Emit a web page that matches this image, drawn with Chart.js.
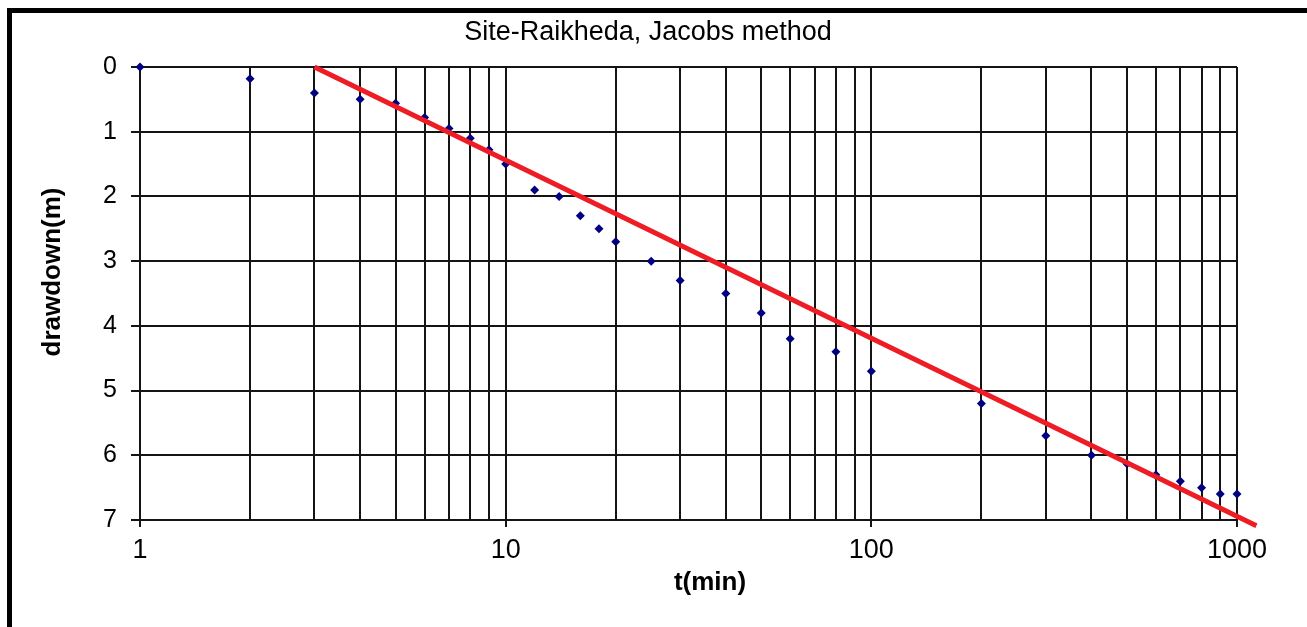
<!DOCTYPE html>
<html>
<head>
<meta charset="utf-8">
<title>Site-Raikheda, Jacobs method</title>
<script src="https://cdn.jsdelivr.net/npm/chart.js@4/dist/chart.umd.min.js"></script>
<style>
    body { margin: 0; background: #fff; overflow: hidden; }
    .frame {
        position: absolute;
        left: 7px;
        top: 8px;
        width: 1400px;
        height: 700px;
        border-top: 5px solid #000;
        border-left: 5px solid #000;
    }
    #jacobs-chart { position: absolute; left: 0; top: 0; }
</style>
</head>
<body>
<div class="frame"></div>
<canvas id="jacobs-chart" width="1307" height="627"></canvas>
<script>
// ===== Pumping test data (Jacobs straight-line method) =====

const chartTitle = 'Site-Raikheda, Jacobs method';
const xAxisTitle = 't(min)';
const yAxisTitle = 'drawdown(m)';

// observed drawdown
const timeMin = [1, 2, 3, 4, 5, 6, 7, 8, 9, 10, 12, 14, 16, 18, 20, 25, 30, 40, 50, 60, 80, 100,
    200, 300, 400, 500, 600, 700, 800, 900, 1000];
const drawdownM = [0, 0.18, 0.4, 0.5, 0.56, 0.78, 0.95, 1.1, 1.28, 1.5, 1.9, 2.0, 2.3, 2.5, 2.7, 3.0, 3.3, 3.5, 3.8, 4.2, 4.4, 4.7,
    5.2, 5.7, 6.0, 6.13, 6.3, 6.4, 6.5, 6.6, 6.6];

// fitted straight line
const fitTime = [3, 1130];
const fitDrawdown = [0, 7.09];

// axis ticks
const xGridTicks = [1, 2, 3, 4, 5, 6, 7, 8, 9, 10, 20, 30, 40, 50, 60, 70, 80, 90,
    100, 200, 300, 400, 500, 600, 700, 800, 900, 1000];
const xTickLabels = [1, 10, 100, 1000];
const yTickLabels = [0, 1, 2, 3, 4, 5, 6, 7];

const FONT = '"Liberation Sans", Arial, sans-serif';
const GRID = '#141414';

// Titles drawn at fixed spots like the original spreadsheet chart
const titlesPlugin = {
    id: 'titles',
    afterDraw(chart) {
        const ctx = chart.ctx;
        ctx.save();
        ctx.fillStyle = '#000';
        ctx.textAlign = 'center';
        ctx.textBaseline = 'middle';

        ctx.font = '27px ' + FONT;
        ctx.fillText(chartTitle, 648, 33);

        ctx.font = 'bold 26px ' + FONT;
        ctx.fillText(xAxisTitle, 710, 583);

        ctx.translate(53, 272);
        ctx.rotate(-Math.PI / 2);
        ctx.fillText(yAxisTitle, 0, 0);
        ctx.restore();
    }
};

const ctx = document.getElementById('jacobs-chart').getContext('2d');

new Chart(ctx, {
    type: 'scatter',
    data: {
        datasets: [
            {
                label: 'Fit',
                data: fitTime.map((t, i) => ({ x: t, y: fitDrawdown[i] })),
                showLine: true,
                borderColor: '#ee1c24',
                borderWidth: 5,
                borderCapStyle: 'butt',
                pointRadius: 0,
                clip: false
            },
            {
                label: 'Observed',
                data: timeMin.map((t, i) => ({ x: t, y: drawdownM[i] })),
                pointStyle: 'rectRot',
                pointRadius: 4.5,
                backgroundColor: '#000080',
                borderColor: '#000080',
                borderWidth: 0,
                clip: false
            }
        ]
    },
    options: {
        responsive: false,
        animation: false,
        layout: {
            padding: { left: 14, top: 67, right: 70, bottom: 0 }
        },
        scales: {
            x: {
                type: 'logarithmic',
                min: 1,
                max: 1000,
                afterFit: (scale) => { scale.height = 107; },
                afterBuildTicks: (scale) => {
                    scale.ticks = xGridTicks.map(v => ({ value: v }));
                },
                ticks: {
                    autoSkip: false,
                    maxRotation: 0,
                    padding: 7,
                    color: '#000',
                    font: { family: FONT, size: 27 },
                    callback: (value) => xTickLabels.includes(value) ? String(value) : ''
                },
                grid: {
                    color: GRID,
                    lineWidth: 2,
                    tickLength: 7,
                    tickColor: (c) => (c.tick && xTickLabels.includes(c.tick.value)) ? GRID : 'rgba(0,0,0,0)'
                },
                border: { color: GRID, width: 2 }
            },
            y: {
                reverse: true,
                min: 0,
                max: 7,
                afterFit: (scale) => { scale.width = 126; },
                afterBuildTicks: (scale) => {
                    scale.ticks = yTickLabels.map(v => ({ value: v }));
                },
                ticks: {
                    stepSize: 1,
                    padding: 14,
                    color: '#000',
                    font: { family: FONT, size: 25 }
                },
                grid: {
                    color: GRID,
                    lineWidth: 2,
                    tickLength: 9,
                    tickColor: GRID
                },
                border: { color: GRID, width: 2 }
            }
        },
        plugins: {
            legend: { display: false },
            tooltip: { enabled: false },
            title: { display: false }
        }
    },
    plugins: [titlesPlugin]
});
</script>
</body>
</html>
